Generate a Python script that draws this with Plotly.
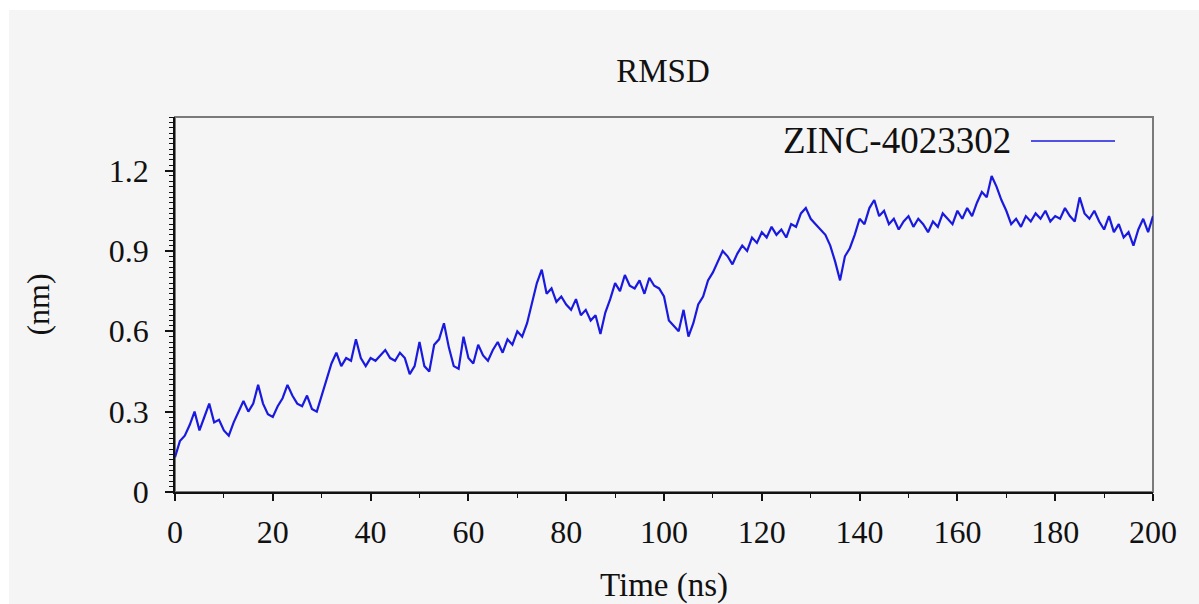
import plotly.graph_objects as go

# ---- data ----
time_ns = list(range(0, 201))
rmsd_nm = [
    0.13, 0.19, 0.21, 0.25, 0.30, 0.23, 0.28, 0.33, 0.26, 0.27,
    0.23, 0.21, 0.26, 0.30, 0.34, 0.30, 0.33, 0.40, 0.33, 0.29,
    0.28, 0.32, 0.35, 0.40, 0.36, 0.33, 0.32, 0.36, 0.31, 0.30,
    0.36, 0.42, 0.48, 0.52, 0.47, 0.50, 0.49, 0.57, 0.50, 0.47,
    0.50, 0.49, 0.51, 0.53, 0.50, 0.49, 0.52, 0.50, 0.44, 0.47,
    0.56, 0.47, 0.45, 0.55, 0.57, 0.63, 0.54, 0.47, 0.46, 0.58,
    0.50, 0.48, 0.55, 0.51, 0.49, 0.53, 0.56, 0.52, 0.57, 0.55,
    0.60, 0.58, 0.63, 0.70, 0.78, 0.83, 0.74, 0.76, 0.71, 0.73,
    0.70, 0.68, 0.72, 0.66, 0.68, 0.64, 0.66, 0.59, 0.67, 0.72,
    0.78, 0.75, 0.81, 0.77, 0.76, 0.79, 0.74, 0.80, 0.77, 0.76,
    0.73, 0.64, 0.62, 0.60, 0.68, 0.58, 0.63, 0.70, 0.73, 0.79,
    0.82, 0.86, 0.90, 0.88, 0.85, 0.89, 0.92, 0.90, 0.95, 0.93,
    0.97, 0.95, 0.99, 0.96, 0.98, 0.95, 1.00, 0.99, 1.04, 1.06,
    1.02, 1.00, 0.98, 0.96, 0.92, 0.86, 0.79, 0.88, 0.91, 0.96,
    1.02, 1.00, 1.06, 1.09, 1.03, 1.05, 1.00, 1.02, 0.98, 1.01,
    1.03, 0.99, 1.02, 1.00, 0.97, 1.01, 0.99, 1.04, 1.02, 1.00,
    1.05, 1.02, 1.06, 1.03, 1.08, 1.12, 1.10, 1.18, 1.14, 1.09,
    1.05, 1.00, 1.02, 0.99, 1.03, 1.01, 1.04, 1.02, 1.05, 1.01,
    1.03, 1.02, 1.06, 1.03, 1.01, 1.10, 1.04, 1.02, 1.05, 1.01,
    0.98, 1.03, 0.97, 1.00, 0.95, 0.97, 0.92, 0.98, 1.02, 0.97,
    1.03,
]
series_name = "ZINC-4023302"
x_ticks = [0, 20, 40, 60, 80, 100, 120, 140, 160, 180, 200]
y_ticks = [0, 0.3, 0.6, 0.9, 1.2]
y_tick_labels = ["0", "0.3", "0.6", "0.9", "1.2"]

# ---- layout geometry (pixels) ----
W, H = 1199, 604
L, R, T, B = 175, 46, 117, 112
pw, ph = W - L - R, H - T - B


def px_x(p):
    return (p - L) / pw


def px_y(p):
    return (H - B - p) / ph


FONT = "Liberation Serif, Times New Roman, serif"
LINE_COLOR = "#1a1adf"

fig = go.Figure()
fig.add_trace(go.Scatter(
    x=time_ns, y=rmsd_nm, mode="lines", name=series_name,
    line=dict(color=LINE_COLOR, width=2.2), showlegend=False,
))

shapes = [
    # light grey page with a thin white margin at top/left
    dict(type="rect", xref="paper", yref="paper",
         x0=px_x(9), x1=px_x(W + 5), y0=px_y(H + 5), y1=px_y(10),
         fillcolor="#f5f5f5", line=dict(width=0), layer="below"),
    # grey frame (top/right)
    dict(type="rect", xref="paper", yref="paper", x0=0, x1=1, y0=0, y1=1,
         line=dict(color="#7a7a7a", width=2), layer="below"),
    # legend sample line
    dict(type="line", xref="paper", yref="paper",
         x0=px_x(1031), x1=px_x(1115), y0=px_y(141), y1=px_y(141),
         line=dict(color=LINE_COLOR, width=1.6)),
]

annotations = [
    dict(text=series_name, xref="paper", yref="paper",
         x=px_x(1013), y=px_y(141), xanchor="right", yanchor="middle",
         showarrow=False, font=dict(family=FONT, size=37, color="#111")),
]

fig.update_layout(
    width=W, height=H,
    margin=dict(l=L, r=R, t=T, b=B, pad=0),
    paper_bgcolor="white",
    plot_bgcolor="#f6f6f6",
    font=dict(family=FONT, size=32, color="#111"),
    title=dict(text="RMSD", x=px_x(663), xref="paper", y=1 - 70 / H,
               yref="container", xanchor="center", yanchor="middle",
               font=dict(family=FONT, size=33, color="#111")),
    shapes=shapes,
    annotations=annotations,
    showlegend=False,
)

fig.update_xaxes(
    range=[0, 200], tickvals=x_ticks, ticks="outside", ticklen=7, tickwidth=1.5,
    tickcolor="#111", showline=True, linecolor="#111", linewidth=1.5,
    showgrid=False, zeroline=False, ticklabelstandoff=4, automargin=False,
    minor=dict(dtick=10, tick0=0, ticks="outside", ticklen=4, tickwidth=1.2,
               tickcolor="#111", showgrid=False),
    title=dict(text="Time (ns)", font=dict(family=FONT, size=33), standoff=24),
    tickfont=dict(family=FONT, size=32, color="#111"),
)
fig.update_yaxes(
    range=[0, 1.4], tickvals=y_ticks, ticktext=y_tick_labels, ticks="outside",
    ticklen=8, tickwidth=1.5, tickcolor="#111", showline=True, linecolor="#111",
    linewidth=1.5, showgrid=False, zeroline=False, ticklabelstandoff=10,
    automargin=False,
    minor=dict(dtick=0.02, tick0=0, ticks="outside", ticklen=4, tickwidth=1.2,
               tickcolor="#111", showgrid=False),
    title=dict(text="(nm)", font=dict(family=FONT, size=32), standoff=50),
    tickfont=dict(family=FONT, size=32, color="#111"),
)

fig.write_html("out.html")
